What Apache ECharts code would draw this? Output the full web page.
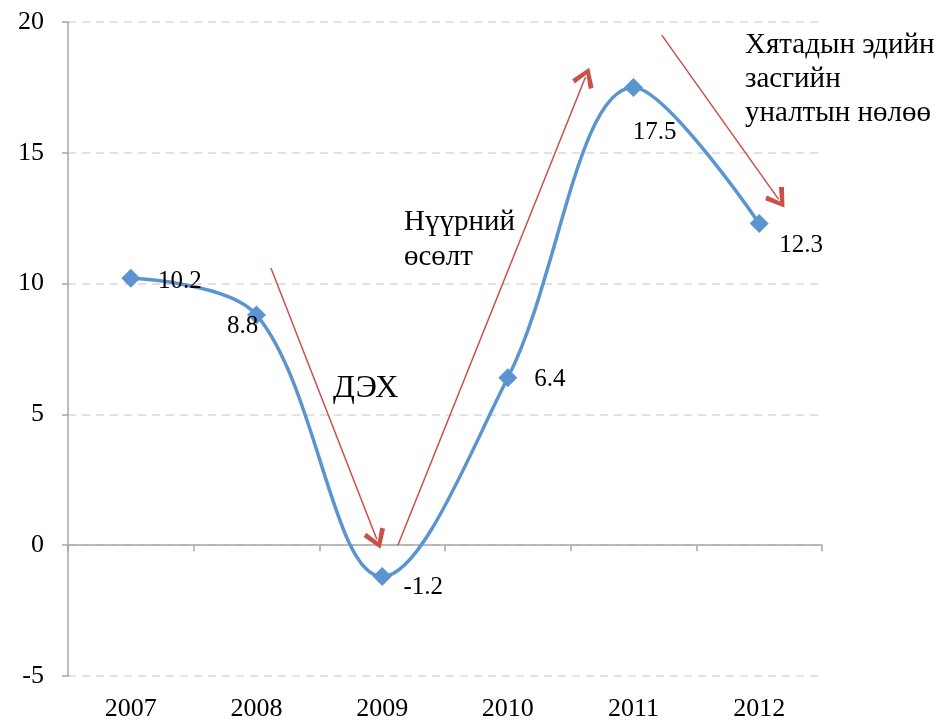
<!DOCTYPE html>
<html lang="mn">
<head>
    <meta charset="UTF-8">
    <title>Growth</title>
    <script type="text/javascript" src="https://cdn.jsdelivr.net/npm/echarts@6/dist/echarts.min.js"></script>
    <style>
        html, body { margin: 0; padding: 0; background: #fff; }
        #chart { width: 939px; height: 722px; }
    </style>
</head>
<body>
<div id="chart"></div>
<script>
    // data
    var years = ['2007', '2008', '2009', '2010', '2011', '2012'];
    var growth = [10.2, 8.8, -1.2, 6.4, 17.5, 12.3];
    // label offsets per point (px)
    var labelOffsets = [[49, 3], [-14, 11], [41, 11], [42, 2], [21, 45], [42, 22]];
    // annotation arrows: [x1, y1, x2, y2] on a hidden axis where 0..5 = category centres
    var arrows = [
        [1.115, 10.6, 1.958, 0.22],
        [2.125, 0.0, 3.618, 17.9],
        [4.225, 19.5, 5.155, 13.22]
    ];

    var FONT = '"Liberation Serif", "Times New Roman", serif';
    // open V arrow head, pointing up
    var chevron = 'path://M12,0 L24,17 L19.8,20 L12,7.5 L4.2,20 L0,17 Z';

    var chart = echarts.init(document.getElementById('chart'));

    var option = {
        backgroundColor: '#fff',
        animation: false,
        grid: { left: 68, right: 117, top: 22, bottom: 43 },
        xAxis: [{
            // zero line with ticks between categories
            type: 'category',
            data: years,
            position: 'top',
            boundaryGap: true,
            axisLine: { onZero: true, lineStyle: { color: '#a6a6a6', width: 1.5 } },
            axisTick: { show: true, inside: true, length: 6, lineStyle: { color: '#a6a6a6', width: 1.5 } },
            axisLabel: { show: false },
            splitLine: { show: false }
        }, {
            // year labels at the bottom
            type: 'category',
            data: years,
            position: 'bottom',
            boundaryGap: true,
            axisLine: { show: false, onZero: false },
            axisTick: { show: false },
            axisLabel: { color: '#000', fontFamily: FONT, fontSize: 26, margin: 20 },
            splitLine: { show: false }
        }, {
            // hidden linear axis for the annotation arrows
            type: 'value',
            min: -0.5,
            max: 5.5,
            show: false
        }],
        yAxis: {
            type: 'value',
            min: -5,
            max: 20,
            interval: 5,
            axisLine: { show: true, onZero: false, lineStyle: { color: '#a6a6a6', width: 1.5 } },
            axisTick: { show: true, length: 6, lineStyle: { color: '#a6a6a6', width: 1.5 } },
            axisLabel: { color: '#000', fontFamily: FONT, fontSize: 26, margin: 24 },
            splitLine: { show: true, lineStyle: { color: '#d9d9d9', type: [8, 6], width: 1.5 } }
        },
        graphic: [
            { type: 'text', left: 333, top: 373, style: { text: 'ДЭХ', font: '32px ' + FONT, fill: '#000' } },
            { type: 'text', left: 404, top: 205, style: { text: 'Нүүрний\nөсөлт', font: '29px ' + FONT, fill: '#000', lineHeight: 35 } },
            { type: 'text', left: 745, top: 28, style: { text: 'Хятадын эдийн\nзасгийн\nуналтын нөлөө', font: '29px ' + FONT, fill: '#000', lineHeight: 34 } }
        ],
        series: [{
            type: 'line',
            xAxisIndex: 0,
            data: growth.map(function (v, i) {
                return { value: v, label: { offset: labelOffsets[i] } };
            }),
            smooth: 0.35,
            symbol: 'diamond',
            symbolSize: 19,
            lineStyle: { color: '#5b95cf', width: 3.5 },
            itemStyle: { color: '#5b95cf' },
            label: {
                show: true,
                position: 'inside',
                color: '#000',
                fontFamily: FONT,
                fontSize: 25
            },
            z: 3
        }, {
            type: 'line',
            xAxisIndex: 2,
            data: [],
            markLine: {
                silent: true,
                symbol: ['none', chevron],
                symbolSize: [23, 20],
                label: { show: false },
                lineStyle: { color: '#c9504b', width: 1.5, type: 'solid' },
                data: arrows.map(function (a) {
                    return [{ coord: [a[0], a[1]] }, { coord: [a[2], a[3]] }];
                })
            },
            z: 2
        }]
    };

    chart.setOption(option);
</script>
</body>
</html>
